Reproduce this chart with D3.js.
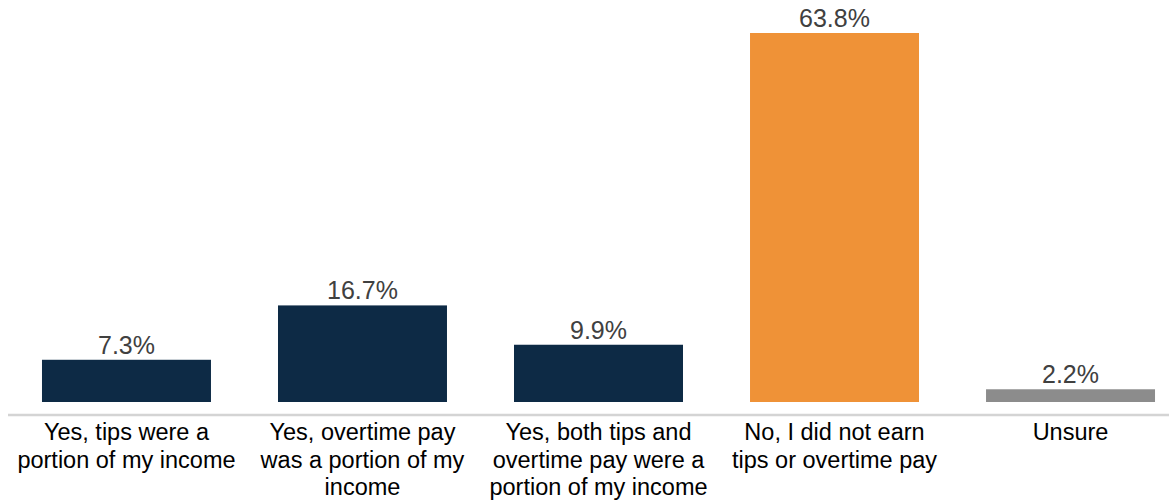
<!DOCTYPE html>
<html lang="en">
<head>
    <meta charset="utf-8">
    <title>Tips and overtime pay</title>
    <script src="https://cdnjs.cloudflare.com/ajax/libs/d3/7.8.5/d3.min.js"></script>
    <style>
        html, body { margin: 0; padding: 0; background: #ffffff; }
        svg { display: block; font-family: "Liberation Sans", Arial, sans-serif; }
        .value-label { fill: #404040; font-size: 25px; }
        .cat-label { fill: #000000; font-size: 23.5px; }
    </style>
</head>
<body>
    <svg id="chart"></svg>

    <script>
        // Data
        const categories = [
            "Yes, tips were a\nportion of my income",
            "Yes, overtime pay\nwas a portion of my\nincome",
            "Yes, both tips and\novertime pay were a\nportion of my income",
            "No, I did not earn\ntips or overtime pay",
            "Unsure"
        ];
        const values = [7.3, 16.7, 9.9, 63.8, 2.2];
        const barColors = ["#0d2a45", "#0d2a45", "#0d2a45", "#ef9237", "#8c8c8c"];

        const width = 1169;
        const height = 501;
        const baseY = 402;

        const svg = d3.select('#chart')
            .attr('width', width)
            .attr('height', height);

        const x = d3.scaleBand()
            .domain(categories)
            .range([8, 1189])
            .paddingInner(0.284)
            .paddingOuter(0.144);

        const y = d3.scaleLinear()
            .domain([0, 63.8])
            .range([baseY, 33]);

        const rows = categories.map((c, i) => ({ cat: c, value: values[i], color: barColors[i] }));

        // Bars
        svg.append('g')
            .selectAll('rect')
            .data(rows)
            .enter().append('rect')
            .attr('x', d => x(d.cat))
            .attr('y', d => y(d.value))
            .attr('width', x.bandwidth())
            .attr('height', d => baseY - y(d.value))
            .attr('fill', d => d.color);

        // Value labels
        svg.append('g')
            .selectAll('text')
            .data(rows)
            .enter().append('text')
            .attr('class', 'value-label')
            .attr('x', d => x(d.cat) + x.bandwidth() / 2)
            .attr('y', d => y(d.value) - 6)
            .attr('text-anchor', 'middle')
            .text(d => d.value.toFixed(1) + '%');

        // Axis line
        svg.append('line')
            .attr('x1', 8)
            .attr('x2', width)
            .attr('y1', 415)
            .attr('y2', 415)
            .attr('stroke', '#d4d4d4')
            .attr('stroke-width', 2.5);

        // Category labels
        const cat = svg.append('g')
            .selectAll('text')
            .data(rows)
            .enter().append('text')
            .attr('class', 'cat-label')
            .attr('text-anchor', 'middle')
            .attr('x', d => x(d.cat) + x.bandwidth() / 2)
            .attr('y', 440);

        cat.selectAll('tspan')
            .data(d => d.cat.split('\n').map(line => ({ line, cx: x(d.cat) + x.bandwidth() / 2 })))
            .enter().append('tspan')
            .attr('x', d => d.cx)
            .attr('dy', (d, i) => i === 0 ? 0 : 27.5)
            .text(d => d.line);
    </script>
</body>
</html>
